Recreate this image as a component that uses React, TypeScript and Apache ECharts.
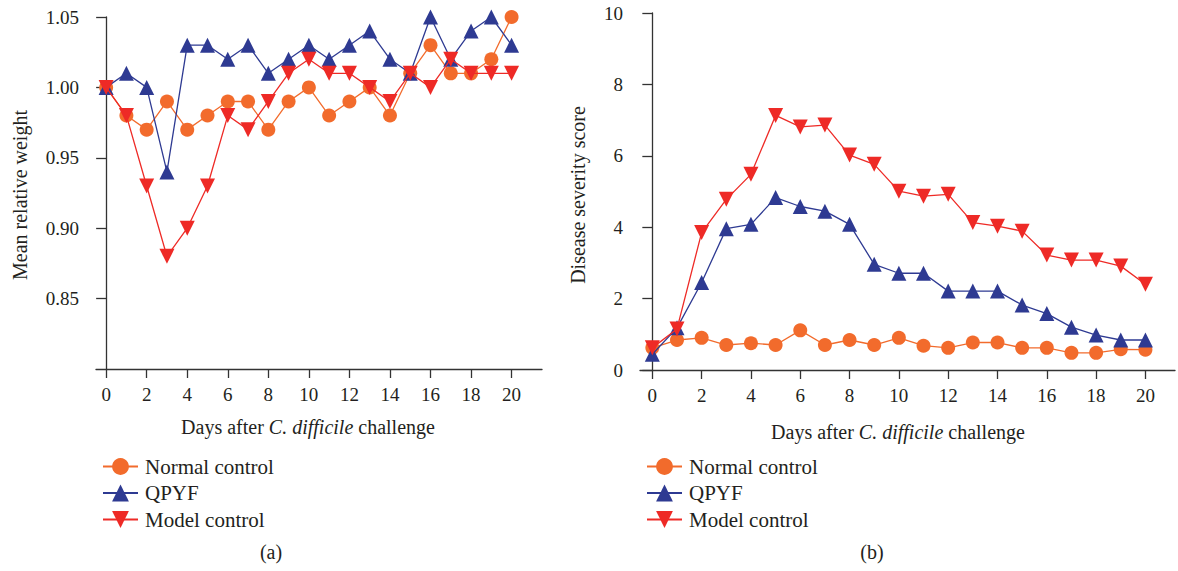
import React, { useEffect, useRef } from "react";
import * as echarts from "echarts";

const days = [0, 1, 2, 3, 4, 5, 6, 7, 8, 9, 10, 11, 12, 13, 14, 15, 16, 17, 18, 19, 20];
const dayTicks = [0, 2, 4, 6, 8, 10, 12, 14, 16, 18, 20];
const weightTicks = [0.85, 0.9, 0.95, 1.0, 1.05];
const severityTicks = [0, 2, 4, 6, 8, 10];
const seriesNames = ["Normal control", "QPYF", "Model control"];

const weightNormal = [1.0, 0.98, 0.97, 0.99, 0.97, 0.98, 0.99, 0.99, 0.97, 0.99, 1.0, 0.98, 0.99, 1.0, 0.98, 1.01, 1.03, 1.01, 1.01, 1.02, 1.05];
const weightQPYF = [1.0, 1.01, 1.0, 0.94, 1.03, 1.03, 1.02, 1.03, 1.01, 1.02, 1.03, 1.02, 1.03, 1.04, 1.02, 1.01, 1.05, 1.02, 1.04, 1.05, 1.03];
const weightModel = [1.0, 0.98, 0.93, 0.88, 0.9, 0.93, 0.98, 0.97, 0.99, 1.01, 1.02, 1.01, 1.01, 1.0, 0.99, 1.01, 1.0, 1.02, 1.01, 1.01, 1.01];

const severityNormal = [0.62, 0.84, 0.9, 0.7, 0.75, 0.7, 1.11, 0.7, 0.84, 0.7, 0.9, 0.68, 0.62, 0.77, 0.77, 0.62, 0.62, 0.48, 0.48, 0.58, 0.57];
const severityQPYF = [0.44, 1.18, 2.45, 3.96, 4.08, 4.83, 4.58, 4.45, 4.08, 2.96, 2.71, 2.71, 2.21, 2.21, 2.21, 1.82, 1.58, 1.2, 0.98, 0.84, 0.84];
const severityModel = [0.62, 1.15, 3.85, 4.78, 5.48, 7.13, 6.81, 6.86, 6.02, 5.76, 5.01, 4.87, 4.92, 4.13, 4.03, 3.89, 3.22, 3.08, 3.08, 2.91, 2.4];

const COLORS = ["#F26B2C", "#2E3A92", "#EE2A26"];
const SYMBOLS = ["circle", "triangle", "triangle"];
const ROTATES = [0, 0, 180];
const SIZES = [14, 15, 15];
const FONT = "Liberation Serif, DejaVu Serif, serif";
const TEXT = "#231F20";
const AXIS = "#333333";

const tickRich = { t: { fontSize: 19, fontFamily: FONT, color: TEXT, fill: TEXT } };
const legendRich = { t: { fontSize: 21, fontFamily: FONT, color: TEXT, fill: TEXT } };

function pairs(vals: number[]) {
  return days.map((d, i) => [d, vals[i]]);
}

function makeSeries(idx: number, vals: number[], axisIndex: number) {
  return {
    type: "line",
    name: seriesNames[idx],
    xAxisIndex: axisIndex,
    yAxisIndex: axisIndex,
    data: pairs(vals),
    symbol: SYMBOLS[idx],
    symbolSize: SIZES[idx],
    symbolRotate: ROTATES[idx],
    showAllSymbol: true,
    clip: false,
    color: COLORS[idx],
    lineStyle: { color: COLORS[idx], width: 1.3 },
    itemStyle: { color: COLORS[idx] },
    z: 2 + idx,
  };
}

function xAxisCfg(gridIndex: number, max: number) {
  return {
    type: "value",
    gridIndex,
    min: -0.5,
    max,
    axisLine: { show: true, lineStyle: { color: AXIS, width: 1.3 } },
    axisTick: { show: true, length: 9, customValues: dayTicks, lineStyle: { color: AXIS, width: 1.3 } },
    axisLabel: {
      customValues: dayTicks,
      margin: 16,
      fontSize: 19,
      fontFamily: FONT,
      color: TEXT,
      formatter: (v: number) => `{t|${v}}`,
      rich: tickRich,
    },
    splitLine: { show: false },
  };
}

function legendCfg(left: number) {
  return {
    left,
    top: 451,
    orient: "vertical",
    itemWidth: 35,
    itemHeight: 21,
    itemGap: 5.5,
    data: seriesNames,
    formatter: (n: string) => `{t|${n}}`,
    textStyle: { fontSize: 21, fontFamily: FONT, color: TEXT, padding: [0, 0, 0, 2], rich: legendRich },
  };
}

function titleText(x: number, y: number, rotation: number, text: string, rich?: any) {
  return {
    type: "text",
    x,
    y,
    rotation,
    style: {
      text,
      fontSize: 20,
      fontFamily: FONT,
      fill: TEXT,
      textAlign: "center",
      textVerticalAlign: "middle",
      align: "center",
      verticalAlign: "middle",
      rich,
    },
  };
}

const italicRich = {
  i: { fontStyle: "italic", fontSize: 20, fontFamily: FONT, fill: TEXT, color: TEXT },
  n: { fontSize: 20, fontFamily: FONT, fill: TEXT, color: TEXT },
};

export default function App() {
  const ref = useRef<HTMLDivElement>(null);
  useEffect(() => {
    document.body.style.margin = "0";
    if (!ref.current) return;
    const chart = echarts.init(ref.current, null, { renderer: "svg" });
    chart.setOption({
      animation: false,
      backgroundColor: "#ffffff",
      textStyle: { fontFamily: FONT },
      grid: [
        { left: 96, top: 17, width: 446, height: 352 },
        { left: 640, top: 13, width: 535, height: 357 },
      ],
      xAxis: [xAxisCfg(0, 21.5), xAxisCfg(1, 21.2)],
      yAxis: [
        {
          type: "value",
          gridIndex: 0,
          min: 0.8,
          max: 1.05,
          axisLine: { show: true, lineStyle: { color: AXIS, width: 1.3 } },
          axisTick: { show: true, length: 10, customValues: weightTicks, lineStyle: { color: AXIS, width: 1.3 } },
          axisLabel: {
            customValues: weightTicks,
            margin: 17,
            fontSize: 19,
            fontFamily: FONT,
            color: TEXT,
            formatter: (v: number) => `{t|${v.toFixed(2)}}`,
            rich: tickRich,
          },
          splitLine: { show: false },
        },
        {
          type: "value",
          gridIndex: 1,
          min: 0,
          max: 10,
          axisLine: { show: true, lineStyle: { color: AXIS, width: 1.3 } },
          axisTick: { show: true, length: 10, customValues: severityTicks, lineStyle: { color: AXIS, width: 1.3 } },
          axisLabel: {
            customValues: severityTicks,
            margin: 17,
            fontSize: 19,
            fontFamily: FONT,
            color: TEXT,
            formatter: (v: number) => `{t|${v}}`,
            rich: tickRich,
          },
          splitLine: { show: false },
        },
      ],
      legend: [legendCfg(97), legendCfg(641)],
      series: [
        makeSeries(0, weightNormal, 0),
        makeSeries(1, weightQPYF, 0),
        makeSeries(2, weightModel, 0),
        makeSeries(0, severityNormal, 1),
        makeSeries(1, severityQPYF, 1),
        makeSeries(2, severityModel, 1),
      ],
      graphic: [
        titleText(20, 195, Math.PI / 2, "Mean relative weight"),
        titleText(578, 195, Math.PI / 2, "Disease severity score"),
        titleText(308, 427, 0, "{n|Days after }{i|C. difficile}{n| challenge}", italicRich),
        titleText(898, 432, 0, "{n|Days after }{i|C. difficile}{n| challenge}", italicRich),
        titleText(271, 552, 0, "(a)"),
        titleText(872, 552, 0, "(b)"),
      ],
    });
    return () => chart.dispose();
  }, []);
  return <div ref={ref} style={{ width: 1178, height: 571, position: "fixed", left: 0, top: 0 }} />;
}
